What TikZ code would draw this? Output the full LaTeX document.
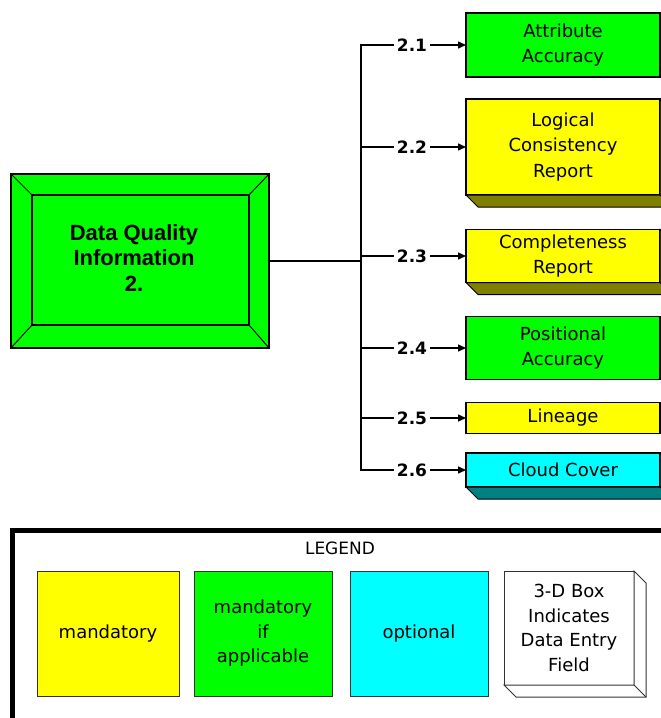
\documentclass[tikz,border=0pt]{standalone}
\usepackage{fontspec}
\setmainfont{DejaVu Sans}
\newfontfamily\headfont{Liberation Sans}
\usetikzlibrary{arrows.meta,calc}

\definecolor{boxgreen}{RGB}{0,255,0}
\definecolor{boxyellow}{RGB}{255,255,0}
\definecolor{boxcyan}{RGB}{0,255,255}
\definecolor{olivedepth}{RGB}{128,128,0}
\definecolor{tealdepth}{RGB}{0,128,128}

% bottom/right faces of a raised box: node name, face colour, outline
\newcommand\castdepth[3]{%
  \filldraw[fill=#2,draw=#3,line width=1pt,line join=miter]
    (#1.south west) -- ++(12,12) -- ($(#1.south east)+(12,12)$)
    -- ($(#1.north east)+(12,12)$) -- (#1.north east) -- (#1.south east) -- cycle;
  \draw[#3,line width=1pt] (#1.south east) -- ++(12,12);}

\begin{document}
\begin{tikzpicture}[x=1pt,y=-1pt,
  every node/.style={inner sep=0pt,outer sep=0pt},
  field/.style={draw=black,line width=1.3pt,minimum width=194pt,align=center,
    font=\fontsize{18}{25.5}\selectfont},
  branchlabel/.style={font=\fontsize{17}{18}\selectfont\bfseries,inner sep=3pt},
  link/.style={line width=1.5pt,line join=miter},
  feed/.style={link,-{Triangle[length=8pt,width=7pt]}},
  keybox/.style={draw=black!80,line width=0.9pt,align=center,
    font=\fontsize{18}{24.5}\selectfont},
]
\useasboundingbox (0,0) rectangle (661,718);
\clip (0,0) rectangle (661,718);
\fill[white] (0,0) rectangle (661,718);

% parent element with bevelled frame
\node[draw=black,line width=1.5pt,fill=boxgreen,minimum width=258pt,minimum height=174pt] (main) at (140,261) {};
\node[draw=black,line width=1.5pt,minimum width=217pt,minimum height=130pt] (core) at (140.5,260) {};
\draw[line width=1pt] (main.north west) -- (core.north west)
  (main.north east) -- (core.north east)
  (main.south west) -- (core.south west)
  (main.south east) -- (core.south east);
\node[font=\headfont\fontsize{22}{25.5}\selectfont\bfseries,align=center] (title) at (134,258)
  {Data Quality\\Information\\2.};

% child elements
\node[field,fill=boxgreen,minimum height=64pt] (b1) at (563,45) {Attribute\\Accuracy};
\node[field,fill=boxyellow,minimum height=96pt] (b2) at (563,147) {Logical\\Consistency\\Report};
\node[field,fill=boxyellow,minimum height=53pt] (b3) at (563,256) {Completeness\\Report};
\node[field,fill=boxgreen,minimum height=63pt] (b4) at (563,348) {Positional\\Accuracy};
\node[field,fill=boxyellow,minimum height=31pt] (b5) at (563,418) {Lineage};
\node[field,fill=boxcyan,minimum height=34pt] (b6) at (563,470) {Cloud Cover};
\castdepth{b2}{olivedepth}{black}
\castdepth{b3}{olivedepth}{black}
\castdepth{b6}{tealdepth}{black}

% trunk and branches
\coordinate (tm) at (361,261);
\coordinate (t1) at (361,45);
\coordinate (t2) at (361,147);
\coordinate (t3) at (361,256);
\coordinate (t4) at (361,348);
\coordinate (t5) at (361,418);
\coordinate (t6) at (361,470);
\node[branchlabel] (l1) at (412,45) {2.1};
\node[branchlabel] (l2) at (412,147) {2.2};
\node[branchlabel] (l3) at (412,256) {2.3};
\node[branchlabel] (l4) at (412,348) {2.4};
\node[branchlabel] (l5) at (412,418) {2.5};
\node[branchlabel] (l6) at (412,470) {2.6};

\draw[link] (l1) -- (t1) -- (t6) -- (l6);
\draw[link] (main) -- (tm);
\foreach \i in {2,3,4,5} { \draw[link] (l\i) -- (t\i); }
\foreach \i in {1,...,6} { \draw[feed] (l\i) -- (b\i); }

% legend
\draw[line width=5pt,line join=miter] (12,530) rectangle (720,780);
\node[font=\fontsize{17}{20}\selectfont] (legendtitle) at (340,548) {LEGEND};
\node[keybox,fill=boxyellow,minimum width=142pt,minimum height=125pt] (k1) at (108,633.5) {mandatory};
\node[keybox,fill=boxgreen,minimum width=138pt,minimum height=125pt] (k2) at (263,633.5) {mandatory\\if\\applicable};
\node[keybox,fill=boxcyan,minimum width=138pt,minimum height=125pt] (k3) at (419,633.5) {optional};
\node[keybox,fill=white,minimum width=130pt,minimum height=114pt] (k4) at (569,628) {3-D Box\\Indicates\\Data Entry\\Field};
\castdepth{k4}{white}{black!80}
\end{tikzpicture}
\end{document}
